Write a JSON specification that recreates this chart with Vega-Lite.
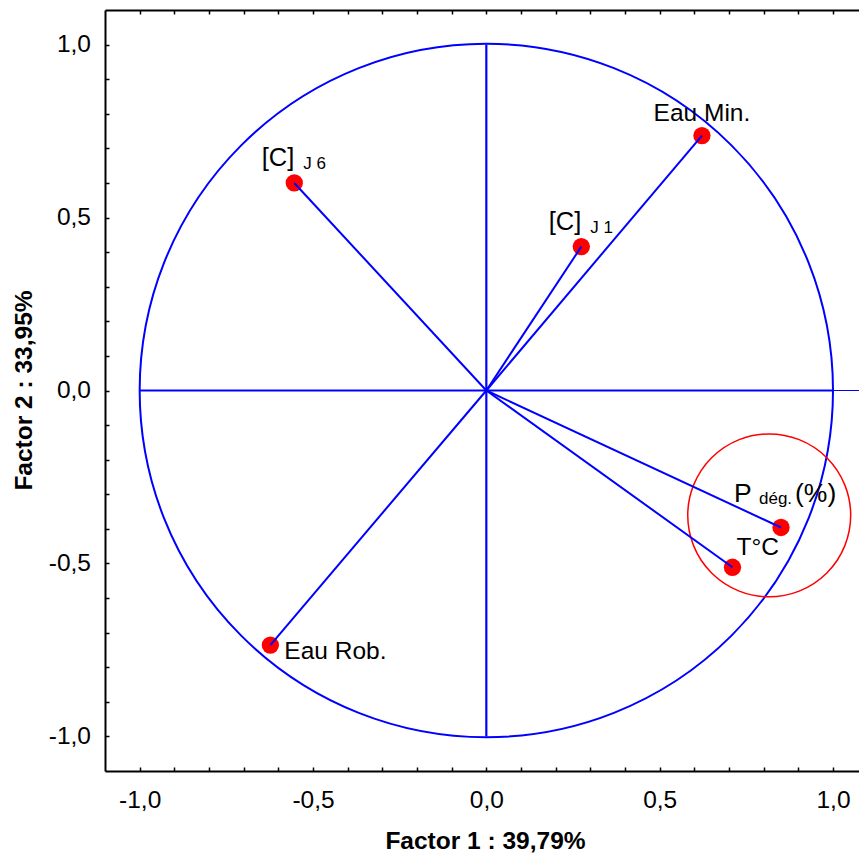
{
  "$schema": "https://vega.github.io/schema/vega-lite/v6.json",
  "width": 754,
  "height": 761,
  "autosize": {"type": "none"},
  "padding": {"left": 105, "top": 10, "right": 0, "bottom": 84},
  "background": "white",
  "config": {
    "view": {"stroke": null},
    "font": "Liberation Sans",
    "axis": {
      "grid": false,
      "domainColor": "black",
      "domainWidth": 2,
      "tickColor": "black",
      "tickWidth": 1.5,
      "tickSize": -4,
      "labelFont": "Liberation Sans",
      "labelFontSize": 24.5,
      "labelColor": "black",
      "titleFont": "Liberation Sans",
      "titleFontSize": 24.5,
      "titleFontWeight": "bold",
      "titleColor": "black"
    }
  },
  "datasets": {
    "variables": [
      {"var": "Eau Min.", "lab": "Eau Min.", "f1": 0.622, "f2": 0.737},
      {"var": "[C] J 1", "lab": "[C]", "sub": "J 1", "f1": 0.274, "f2": 0.416},
      {"var": "[C] J 6", "lab": "[C]", "sub": "J 6", "f1": -0.554, "f2": 0.600},
      {"var": "Eau Rob.", "lab": "Eau Rob.", "f1": -0.623, "f2": -0.736},
      {"var": "P dég.(%)", "lab": "P", "sub": "dég.", "tail": "(%)", "f1": 0.850, "f2": -0.396},
      {"var": "T°C", "lab": "T°C", "f1": 0.710, "f2": -0.511}
    ],
    "crossLines": [
      {"x1": -1, "x2": 1, "y1": 0, "y2": 0},
      {"x1": 0, "x2": 0, "y1": -1, "y2": 1}
    ],
    "extension": [{"x1": 1, "x2": 1.1, "y1": 0}],
    "unitCircle": [{"cx": 0, "cy": 0}],
    "highlight": [{"cx": 0.816, "cy": -0.361}]
  },
  "resolve": {"axis": {"x": "independent", "y": "independent"}},
  "layer": [
    {
      "data": {"name": "crossLines"},
      "mark": {"type": "rule", "color": "#0000ff", "strokeWidth": 2.2},
      "encoding": {
        "x": {
          "field": "x1", "type": "quantitative",
          "scale": {"domain": [-1.1, 1.075], "nice": false, "zero": false},
          "axis": {
            "orient": "bottom",
            "values": [-1, -0.9, -0.8, -0.7, -0.6, -0.5, -0.4, -0.3, -0.2, -0.1, 0, 0.1, 0.2, 0.3, 0.4, 0.5, 0.6, 0.7, 0.8, 0.9, 1],
            "labelExpr": "abs(datum.value * 2 - round(datum.value * 2)) < 0.001 ? (datum.value < -0.001 ? '-' + replace(format(-datum.value, '.1f'), '.', ',') : replace(format(abs(datum.value), '.1f'), '.', ',')) : ''",
            "labelBaseline": "alphabetic",
            "labelPadding": 40,
            "title": "Factor 1 : 39,79%",
            "titleX": 380,
            "titleY": 77,
            "titleBaseline": "alphabetic"
          }
        },
        "x2": {"field": "x2"},
        "y": {
          "field": "y1", "type": "quantitative",
          "scale": {"domain": [-1.1, 1.1], "nice": false, "zero": false},
          "axis": {
            "orient": "left",
            "values": [-1, -0.9, -0.8, -0.7, -0.6, -0.5, -0.4, -0.3, -0.2, -0.1, 0, 0.1, 0.2, 0.3, 0.4, 0.5, 0.6, 0.7, 0.8, 0.9, 1],
            "labelExpr": "abs(datum.value * 2 - round(datum.value * 2)) < 0.001 ? (datum.value < -0.001 ? '-' + replace(format(-datum.value, '.1f'), '.', ',') : replace(format(abs(datum.value), '.1f'), '.', ',')) : ''",
            "labelPadding": 18.5,
            "title": "Factor 2 : 33,95%",
            "titleX": -73.5,
            "titleY": 380,
            "titleBaseline": "alphabetic"
          }
        },
        "y2": {"field": "y2"}
      }
    },
    {
      "data": {"name": "extension"},
      "mark": {"type": "rule", "color": "#0000ff", "strokeWidth": 1},
      "encoding": {
        "x": {
          "field": "x1", "type": "quantitative",
          "scale": {"domain": [-1.1, 1.075], "nice": false, "zero": false},
          "axis": {
            "orient": "top",
            "values": [-1, -0.9, -0.8, -0.7, -0.6, -0.5, -0.4, -0.3, -0.2, -0.1, 0, 0.1, 0.2, 0.3, 0.4, 0.5, 0.6, 0.7, 0.8, 0.9, 1],
            "labels": false,
            "title": null
          }
        },
        "x2": {"field": "x2"},
        "y": {
          "field": "y1", "type": "quantitative",
          "scale": {"domain": [-1.1, 1.1], "nice": false, "zero": false},
          "axis": null
        }
      }
    },
    {
      "data": {"name": "unitCircle"},
      "mark": {
        "type": "point", "shape": "circle", "filled": false,
        "stroke": "#0000ff", "strokeWidth": 2, "opacity": 1,
        "size": {"expr": "pow(2 * width / 2.175, 2)"}
      },
      "encoding": {
        "x": {"field": "cx", "type": "quantitative", "scale": {"domain": [-1.1, 1.075], "nice": false, "zero": false}, "axis": null},
        "y": {"field": "cy", "type": "quantitative", "scale": {"domain": [-1.1, 1.1], "nice": false, "zero": false}, "axis": null}
      }
    },
    {
      "data": {"name": "highlight"},
      "mark": {
        "type": "point", "shape": "circle", "filled": false,
        "stroke": "#ff0000", "strokeWidth": 1.5, "opacity": 1,
        "size": {"expr": "pow(0.47 * width / 2.175, 2)"}
      },
      "encoding": {
        "x": {"field": "cx", "type": "quantitative", "scale": {"domain": [-1.1, 1.075], "nice": false, "zero": false}, "axis": null},
        "y": {"field": "cy", "type": "quantitative", "scale": {"domain": [-1.1, 1.1], "nice": false, "zero": false}, "axis": null}
      }
    },
    {
      "data": {"name": "variables"},
      "encoding": {
        "x": {"field": "f1", "type": "quantitative", "scale": {"domain": [-1.1, 1.075], "nice": false, "zero": false}, "axis": null},
        "y": {"field": "f2", "type": "quantitative", "scale": {"domain": [-1.1, 1.1], "nice": false, "zero": false}, "axis": null}
      },
      "layer": [
        {
          "mark": {"type": "point", "shape": "circle", "filled": true, "color": "#ff0000", "opacity": 1, "size": 300}
        },
        {
          "mark": {"type": "rule", "color": "#0000ff", "strokeWidth": 2},
          "encoding": {"x2": {"datum": 0}, "y2": {"datum": 0}}
        },
        {
          "transform": [{"filter": "datum.var === 'Eau Min.'"}],
          "mark": {"type": "text", "align": "center", "baseline": "alphabetic", "dy": -14.5, "fontSize": 24.5, "color": "black"},
          "encoding": {"text": {"field": "lab"}}
        },
        {
          "transform": [{"filter": "datum.var === '[C] J 1' || datum.var === '[C] J 6'"}],
          "mark": {"type": "text", "align": "right", "baseline": "alphabetic", "dx": 0, "dy": -16.5, "fontSize": 25.5, "color": "black"},
          "encoding": {"text": {"field": "lab"}}
        },
        {
          "transform": [{"filter": "datum.var === '[C] J 1' || datum.var === '[C] J 6'"}],
          "mark": {"type": "text", "align": "left", "baseline": "alphabetic", "dx": 9, "dy": -14, "fontSize": 17, "color": "black"},
          "encoding": {"text": {"field": "sub"}}
        },
        {
          "transform": [{"filter": "datum.var === 'Eau Rob.'"}],
          "mark": {"type": "text", "align": "left", "baseline": "alphabetic", "dx": 14, "dy": 13.5, "fontSize": 24.5, "color": "black"},
          "encoding": {"text": {"field": "lab"}}
        },
        {
          "transform": [{"filter": "datum.var === 'T°C'"}],
          "mark": {"type": "text", "align": "left", "baseline": "alphabetic", "dx": 4, "dy": -12.5, "fontSize": 24.5, "color": "black"},
          "encoding": {"text": {"field": "lab"}}
        },
        {
          "transform": [{"filter": "datum.var === 'P dég.(%)'"}],
          "mark": {"type": "text", "align": "left", "baseline": "alphabetic", "dx": -47, "dy": -25.5, "fontSize": 26.5, "color": "black"},
          "encoding": {"text": {"field": "lab"}}
        },
        {
          "transform": [{"filter": "datum.var === 'P dég.(%)'"}],
          "mark": {"type": "text", "align": "left", "baseline": "alphabetic", "dx": -22, "dy": -23.5, "fontSize": 17, "color": "black"},
          "encoding": {"text": {"field": "sub"}}
        },
        {
          "transform": [{"filter": "datum.var === 'P dég.(%)'"}],
          "mark": {"type": "text", "align": "left", "baseline": "alphabetic", "dx": 14, "dy": -25.5, "fontSize": 26.5, "color": "black"},
          "encoding": {"text": {"field": "tail"}}
        }
      ]
    }
  ]
}
